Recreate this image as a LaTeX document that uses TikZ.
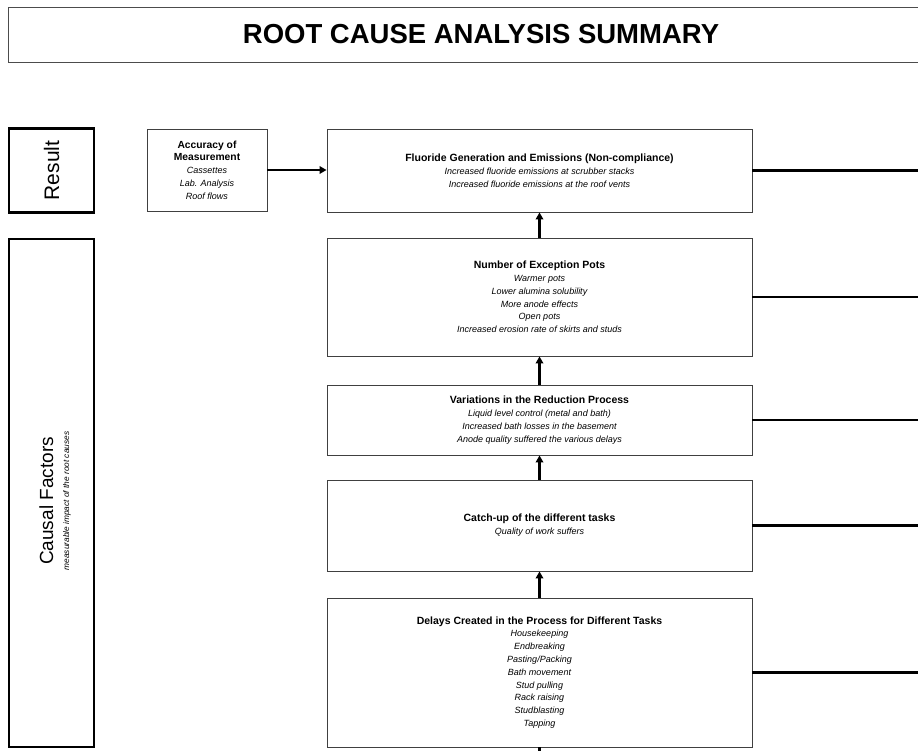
\documentclass[tikz,border=0pt]{standalone}
\usepackage{fontspec}
\setmainfont{Liberation Sans}
\usetikzlibrary{arrows.meta}
\newcommand\hdfnt{\bfseries\fontsize{10.5}{13}\selectfont}
\begin{document}
\begin{tikzpicture}[x=1pt,y=-1pt,
 box/.style={draw=black!75,line width=0.9pt,fill=white,align=center,inner sep=0pt,font=\fontsize{9}{12.8}\selectfont},
 side/.style={draw=black,line width=2.4pt,fill=white,inner sep=0pt,align=center,rotate=90},
 sidetext/.style={inner sep=0pt,align=center,rotate=90},
 conn/.style={line width=2.6pt,-{Triangle[length=7pt,width=7.5pt]}},
 rline/.style={line width=2.2pt}]
\useasboundingbox (0,0) rectangle (918,750);
\coordinate (rx) at (918,0);
\node[box,draw=black!70,minimum width=946,minimum height=55,font=\bfseries\fontsize{27.5}{30}\selectfont] (title) at (481,34.5) {ROOT CAUSE ANALYSIS SUMMARY};
\node[side,minimum width=84,minimum height=85,font=\fontsize{21}{23}\selectfont] (result) at (51.5,170.5) {Result};
\node[side,minimum width=508,minimum height=85] (causal) at (51.5,493) {};
\node[sidetext] (causaltxt) at (55,501) {{\fontsize{19}{21}\selectfont Causal Factors}\\[4pt]{\itshape\fontsize{8.3}{9}\selectfont measurable impact of the root causes}};
\node[box,minimum width=120,minimum height=82] (acc) at (207,170) {{\bfseries\fontsize{10.3}{12.5}\selectfont Accuracy of}\\{\bfseries\fontsize{10.3}{12.5}\selectfont Measurement}\\\itshape Cassettes\\\itshape Lab. Analysis\\\itshape Roof flows};
\node[box,minimum width=425,minimum height=83] (fluor) at (539.5,170.5) {{\hdfnt Fluoride Generation and Emissions (Non-compliance)}\\\itshape Increased fluoride emissions at scrubber stacks\\\itshape Increased fluoride emissions at the roof vents};
\node[box,minimum width=425,minimum height=118] (num) at (539.5,297) {{\hdfnt Number of Exception Pots}\\\itshape Warmer pots\\\itshape Lower alumina solubility\\\itshape More anode effects\\\itshape Open pots\\\itshape Increased erosion rate of skirts and studs};
\node[box,minimum width=425,minimum height=70] (var) at (539.5,420) {{\hdfnt Variations in the Reduction Process}\\\itshape Liquid level control (metal and bath)\\\itshape Increased bath losses in the basement\\\itshape Anode quality suffered the various delays};
\node[box,minimum width=425,minimum height=91] (catch) at (539.5,525.5) {{\hdfnt Catch-up of the different tasks}\\\itshape Quality of work suffers};
\node[box,minimum width=425,minimum height=149] (delay) at (539.5,672.5) {{\hdfnt Delays Created in the Process for Different Tasks}\\\itshape Housekeeping\\\itshape Endbreaking\\\itshape Pasting/Packing\\\itshape Bath movement\\\itshape Stud pulling\\\itshape Rack raising\\\itshape Studblasting\\\itshape Tapping};
\coordinate (bot) at (539.5,752);
\draw[conn,line width=2.2pt] (acc.east) -- (acc.east -| fluor.west);
\draw[conn] (num.north) -- (fluor.south);
\draw[conn] (var.north) -- (num.south);
\draw[conn] (catch.north) -- (var.south);
\draw[conn] (delay.north) -- (catch.south);
\draw[rline] (bot) -- (delay.south);
\foreach \n in {fluor,num,var,catch,delay}
  \draw[rline] (\n.east) -- (\n.east -| rx);
\end{tikzpicture}
\end{document}
